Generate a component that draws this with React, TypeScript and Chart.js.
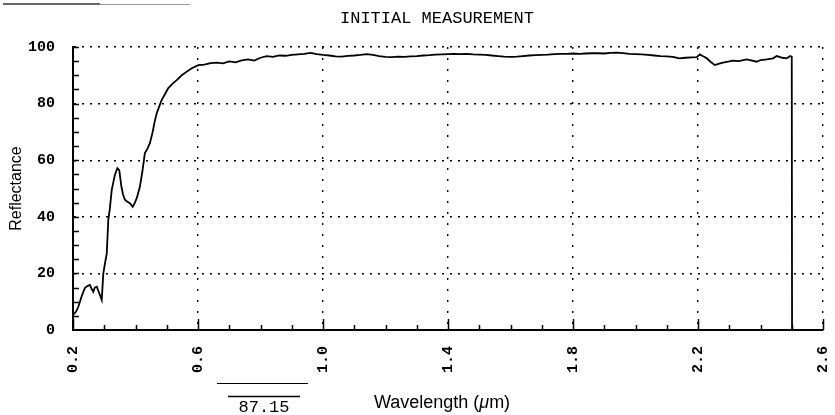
import React, { useEffect, useRef } from 'react';
import { Chart, registerables } from 'chart.js';

Chart.register(...registerables);

// ---- data ----
const WAVELENGTH = [
  0.200, 0.210, 0.217, 0.228, 0.238, 0.246, 0.254, 0.260, 0.265, 0.270, 0.276, 0.284, 0.292,
  0.297, 0.303, 0.308, 0.313, 0.318, 0.324, 0.334, 0.342, 0.348, 0.355, 0.360, 0.366, 0.374,
  0.382, 0.391, 0.398, 0.404, 0.414, 0.422, 0.430, 0.438, 0.446, 0.455, 0.462, 0.468, 0.476,
  0.484, 0.495, 0.505, 0.518, 0.532, 0.548, 0.564, 0.580, 0.601,
  0.62, 0.64, 0.66, 0.68, 0.70, 0.72, 0.74, 0.76, 0.78, 0.80, 0.82, 0.84, 0.86, 0.88, 0.90,
  0.92, 0.94, 0.96, 0.98, 1.00, 1.02, 1.04, 1.06, 1.08, 1.10, 1.12, 1.14, 1.16, 1.18, 1.20,
  1.22, 1.24, 1.26, 1.28, 1.30, 1.32, 1.34, 1.36, 1.38, 1.40, 1.42, 1.44, 1.46, 1.48, 1.50,
  1.52, 1.54, 1.56, 1.58, 1.60, 1.62, 1.64, 1.66, 1.68, 1.70, 1.72, 1.74, 1.76, 1.78, 1.80,
  1.82, 1.84, 1.86, 1.88, 1.90, 1.92, 1.94, 1.96, 1.98, 2.00, 2.02, 2.04, 2.06, 2.08, 2.10,
  2.12, 2.14, 2.16, 2.18, 2.196, 2.206, 2.215, 2.228, 2.24, 2.254, 2.265, 2.28, 2.30, 2.312,
  2.33, 2.356, 2.37, 2.388, 2.40, 2.42, 2.44, 2.452, 2.47, 2.484, 2.495, 2.500, 2.501,
];
const REFLECTANCE = [
  5.3, 6.5, 8.2, 12.0, 14.8, 15.5, 15.9, 14.5, 13.5, 15.0, 15.3, 13.0, 10.6,
  20.0, 24.0, 27.0, 39.0, 43.0, 49.5, 54.8, 57.2, 56.5, 50.6, 48.0, 46.0, 45.3,
  44.8, 43.5, 45.0, 46.6, 50.6, 56.0, 62.5, 64.0, 66.0, 70.0, 74.0, 76.6, 79.0,
  81.3, 83.5, 85.5, 87.0, 88.3, 90.0, 91.3, 92.5, 93.6,
  93.8, 94.3, 94.5, 94.2, 94.9, 94.6, 95.3, 95.6, 95.2, 96.2, 96.8, 96.5, 97.0, 96.9, 97.2,
  97.4, 97.6, 97.9, 97.5, 97.2, 97.0, 96.7, 96.6, 96.9, 97.0, 97.2, 97.5, 97.2, 96.8, 96.5,
  96.4, 96.6, 96.5, 96.7, 96.8, 97.0, 97.1, 97.3, 97.4, 97.5, 97.6, 97.5, 97.6, 97.4, 97.3,
  97.2, 97.0, 96.8, 96.6, 96.5, 96.6, 96.8, 97.0, 97.1, 97.2, 97.3, 97.5, 97.6, 97.6, 97.7,
  97.6, 97.7, 97.8, 97.8, 97.7, 97.9, 98.0, 97.8, 97.6, 97.5, 97.4, 97.2, 97.0, 96.8, 96.7,
  96.5, 96.0, 96.2, 96.3, 96.4, 97.4, 96.8, 96.0, 94.8, 93.6, 94.0, 94.5, 94.9, 95.2,
  95.0, 95.6, 95.3, 94.8, 95.4, 95.6, 96.0, 96.8, 96.2, 96.0, 96.8, 96.5, 0.0,
];

const X_TICKS = [0.2, 0.6, 1.0, 1.4, 1.8, 2.2, 2.6];
const X_MINOR_TICKS = [0.3, 0.4, 0.5, 0.7, 0.8, 0.9, 1.1, 1.2, 1.3, 1.5, 1.6, 1.7, 1.9, 2.0, 2.1, 2.3, 2.4, 2.5];
const Y_TICKS = [0, 20, 40, 60, 80, 100];
const Y_MINOR_TICKS = [5, 10, 15, 20, 25, 30, 35, 40, 45, 50, 55, 60, 65, 70, 75, 80, 85, 90, 95, 100];

const TITLE = 'INITIAL MEASUREMENT';
const Y_TITLE = 'Reflectance';
const X_TITLE_PARTS = ['Wavelength (', 'μ', 'm)'];
const NOTE = '87.15';

const MONO = '"Liberation Mono", "DejaVu Sans Mono", monospace';
const SANS = '"Liberation Sans", Arial, sans-serif';

const decorPlugin = {
  id: 'decor',
  afterDraw(chart: any) {
    const { ctx, chartArea: area } = chart;
    const xs = chart.scales.x;
    const ys = chart.scales.y;
    ctx.save();
    ctx.strokeStyle = '#000';
    ctx.lineWidth = 1.5;
    ctx.beginPath();
    X_MINOR_TICKS.forEach((v) => {
      const px = Math.round(xs.getPixelForValue(v)) + 0.5;
      ctx.moveTo(px, area.bottom);
      ctx.lineTo(px, area.bottom - 5);
    });
    X_TICKS.forEach((v) => {
      const px = Math.round(xs.getPixelForValue(v)) + 0.5;
      ctx.moveTo(px, area.bottom);
      ctx.lineTo(px, area.bottom - 11);
    });
    Y_MINOR_TICKS.forEach((v) => {
      const py = Math.round(ys.getPixelForValue(v)) + 0.5;
      ctx.moveTo(area.left, py);
      ctx.lineTo(area.left + 6, py);
    });
    ctx.stroke();

    ctx.fillStyle = '#000';
    ctx.textBaseline = 'alphabetic';

    // title
    ctx.font = `17px ${MONO}`;
    ctx.textAlign = 'left';
    ctx.fillText(TITLE, 340, 23);

    // x-axis title with italic mu
    const normal = `18px ${SANS}`;
    const italic = `italic 18px ${SANS}`;
    ctx.font = normal;
    const w1 = ctx.measureText(X_TITLE_PARTS[0]).width;
    const w3 = ctx.measureText(X_TITLE_PARTS[2]).width;
    ctx.font = italic;
    const w2 = ctx.measureText(X_TITLE_PARTS[1]).width;
    let x0 = 442 - (w1 + w2 + w3) / 2;
    const base = 408;
    ctx.font = normal;
    ctx.fillText(X_TITLE_PARTS[0], x0, base);
    x0 += w1;
    ctx.font = italic;
    ctx.fillText(X_TITLE_PARTS[1], x0, base);
    x0 += w2;
    ctx.font = normal;
    ctx.fillText(X_TITLE_PARTS[2], x0, base);

    // note below the axis
    ctx.font = `17px ${MONO}`;
    ctx.textAlign = 'center';
    ctx.fillText(NOTE, 264, 412);
    ctx.lineWidth = 1;
    ctx.beginPath();
    ctx.moveTo(217, 383.5);
    ctx.lineTo(308, 383.5);
    ctx.stroke();
    ctx.lineWidth = 1.5;
    ctx.beginPath();
    ctx.moveTo(228, 396.5);
    ctx.lineTo(300, 396.5);
    ctx.stroke();

    // scan mark at top-left
    ctx.strokeStyle = '#333';
    ctx.lineWidth = 1.5;
    ctx.beginPath();
    ctx.moveTo(3, 4);
    ctx.lineTo(100, 4);
    ctx.stroke();
    ctx.strokeStyle = '#999';
    ctx.lineWidth = 1;
    ctx.beginPath();
    ctx.moveTo(100, 4.5);
    ctx.lineTo(190, 4.5);
    ctx.stroke();
    ctx.restore();
  },
};

export default function App() {
  const canvasRef = useRef<HTMLCanvasElement | null>(null);

  useEffect(() => {
    if (!canvasRef.current) return;
    const points = WAVELENGTH.map((x, i) => ({ x, y: REFLECTANCE[i] }));
    const chart = new Chart(canvasRef.current, {
      type: 'line',
      data: {
        datasets: [
          {
            data: points,
            borderColor: '#000',
            borderWidth: 1.8,
            pointRadius: 0,
            tension: 0,
            fill: false,
          },
        ],
      },
      options: {
        animation: false,
        responsive: true,
        maintainAspectRatio: false,
        layout: { padding: { top: 47, right: 12, left: 0, bottom: 0 } },
        plugins: {
          legend: { display: false },
          tooltip: { enabled: false },
          title: { display: false },
        },
        scales: {
          x: {
            type: 'linear',
            min: 0.2,
            max: 2.6,
            afterBuildTicks: (scale: any) => {
              scale.ticks = X_TICKS.map((v) => ({ value: v }));
            },
            afterFit: (scale: any) => {
              scale.height = 85;
              scale.paddingLeft = 0;
              scale.paddingRight = 0;
            },
            ticks: {
              autoSkip: false,
              minRotation: 90,
              maxRotation: 90,
              padding: 16,
              color: '#000',
              font: { family: MONO, size: 15, weight: 'bold' },
              callback: (v: any) => Number(v).toFixed(1),
            },
            grid: {
              color: (c: any) => (c.tick && c.tick.value === 0.2 ? 'rgba(0,0,0,0)' : '#000'),
              lineWidth: 1.4,
              drawTicks: false,
            },
            border: { display: true, color: '#000', width: 2, dash: [2, 9] },
          },
          y: {
            type: 'linear',
            min: 0,
            max: 100,
            afterBuildTicks: (scale: any) => {
              scale.ticks = Y_TICKS.map((v) => ({ value: v }));
            },
            afterFit: (scale: any) => {
              scale.width = 73;
              scale.paddingTop = 0;
              scale.paddingBottom = 0;
            },
            ticks: {
              padding: 18,
              color: '#000',
              font: { family: MONO, size: 15, weight: 'bold' },
            },
            grid: {
              color: (c: any) => (c.tick && c.tick.value === 0 ? 'rgba(0,0,0,0)' : '#000'),
              lineWidth: 1.4,
              drawTicks: false,
            },
            border: { display: true, color: '#000', width: 2, dash: [2, 6] },
            title: {
              display: true,
              text: Y_TITLE,
              color: '#000',
              font: { family: SANS, size: 16 },
              padding: { top: 7, bottom: 0 },
            },
          },
        },
      },
      plugins: [decorPlugin],
    });
    return () => chart.destroy();
  }, []);

  return (
    <div
      style={{
        position: 'absolute',
        left: 0,
        top: 0,
        width: 835,
        height: 415,
        background: '#fff',
      }}
    >
      <canvas ref={canvasRef} style={{ display: 'block' }} />
    </div>
  );
}
